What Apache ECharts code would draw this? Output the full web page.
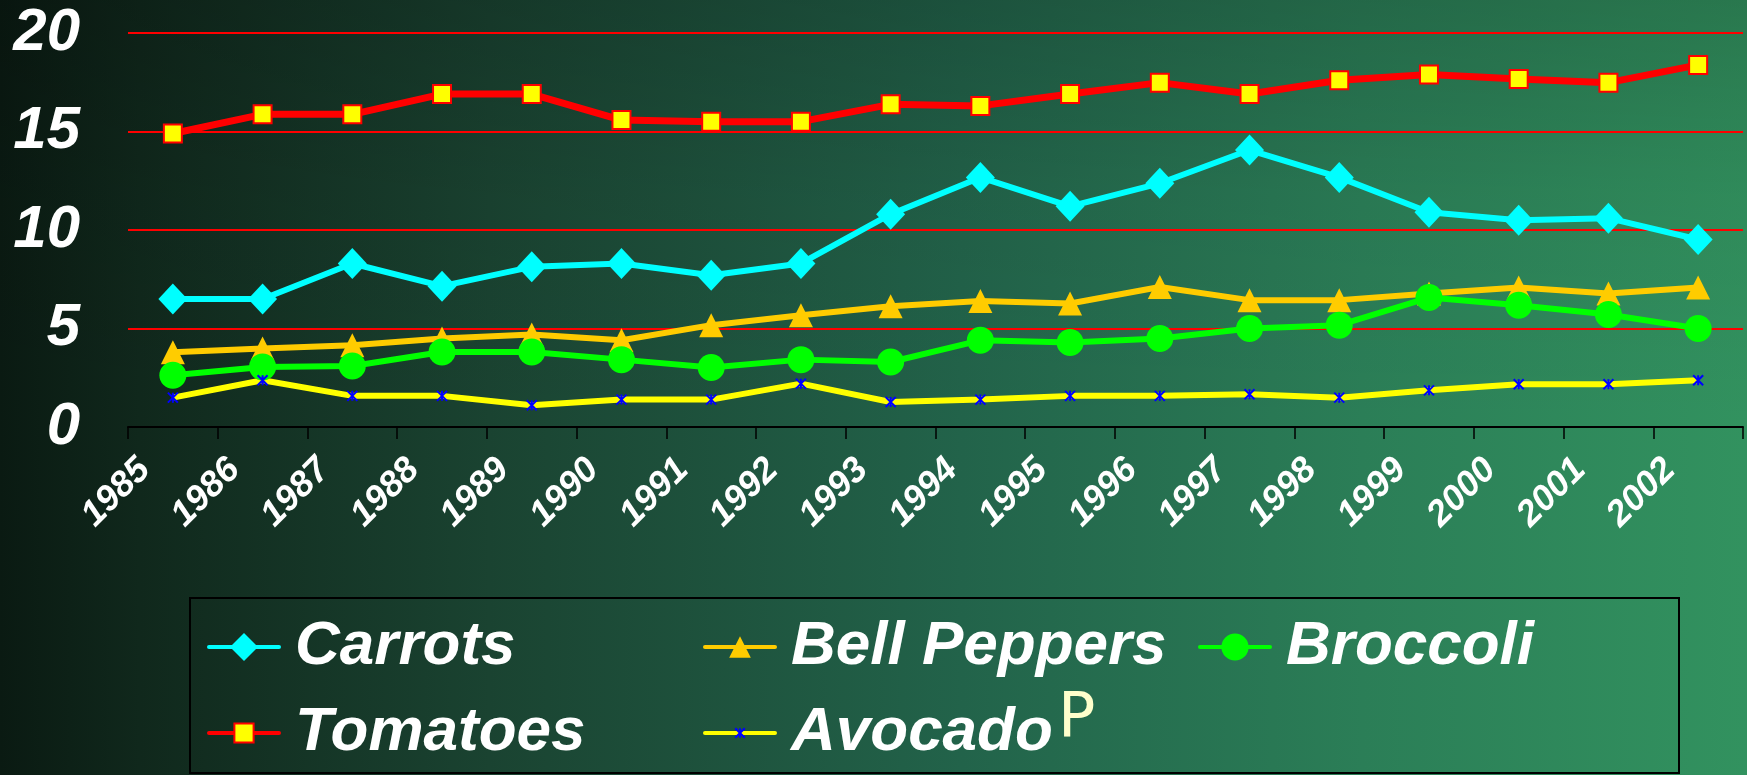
<!DOCTYPE html>
<html>
<head>
<meta charset="utf-8">
<script src="https://cdn.jsdelivr.net/npm/echarts@6/dist/echarts.min.js"></script>
<style>
  html, body { margin: 0; padding: 0; }
  #chart-container {
    width: 1747px; height: 775px;
    background:
      linear-gradient(180deg, rgba(0,0,0,0.18) 0%, rgba(0,0,0,0.05) 25%, rgba(0,0,0,0) 55%),
      linear-gradient(90deg, #0a1a12 0%, #10281c 8%, #1a4331 28%, #22634a 55%, #2b7e57 78%, #32925f 100%);
  }
</style>
</head>
<body>
<div id="chart-container"></div>
<script>
var years = ['1985', '1986', '1987', '1988', '1989', '1990', '1991', '1992', '1993',
             '1994', '1995', '1996', '1997', '1998', '1999', '2000', '2001', '2002'];
var carrots = [6.5, 6.5, 8.3, 7.15, 8.13, 8.3, 7.7, 8.3, 10.8, 12.67, 11.2, 12.37, 14.06, 12.67, 10.9, 10.5, 10.6, 9.52];
var tomatoes = [14.9, 15.87, 15.87, 16.9, 16.9, 15.58, 15.5, 15.5, 16.38, 16.3, 16.9, 17.48, 16.9, 17.6, 17.89, 17.67, 17.48, 18.38];
var bellPeppers = [3.8, 3.98, 4.15, 4.49, 4.69, 4.4, 5.17, 5.67, 6.13, 6.39, 6.27, 7.11, 6.44, 6.44, 6.78, 7.08, 6.78, 7.08];
var broccoli = [2.63, 3.05, 3.1, 3.81, 3.81, 3.42, 3.02, 3.42, 3.3, 4.4, 4.29, 4.49, 5.0, 5.17, 6.57, 6.18, 5.71, 5.0];
var avocado = [1.49, 2.37, 1.58, 1.58, 1.1, 1.39, 1.39, 2.2, 1.27, 1.39, 1.58, 1.58, 1.66, 1.49, 1.86, 2.17, 2.17, 2.37];
var yTicks = [0, 5, 10, 15, 20];

var chartDom = document.getElementById('chart-container');
var myChart = echarts.init(chartDom);

var labelFont = {
  color: '#ffffff',
  fontFamily: 'Liberation Sans',
  fontStyle: 'italic',
  fontWeight: 'bold'
};
var legendText = Object.assign({}, labelFont, { fontSize: 62, lineHeight: 62, padding: [0, 0, 0, 11] });
var xMark = 'path://M0,0L10,10M10,0L0,10M5,0L5,10';

// one legend per entry so each icon can have its own size;
// the text (62px) is taller than every icon, so top = text middle - 31
function legendFor(name, left, textMiddle, h, lineColor) {
  return {
    data: [name], left: left, top: textMiddle - 31, padding: 0,
    itemWidth: 70, itemHeight: h,
    lineStyle: { width: 4, color: lineColor, cap: 'round' },
    textStyle: legendText
  };
}

var option = {
  backgroundColor: 'transparent',
  animation: false,
  grid: { left: 128, right: 4, top: 33, bottom: 348, containLabel: false },
  xAxis: {
    type: 'category',
    data: years,
    boundaryGap: true,
    axisLine: { lineStyle: { color: '#000000', width: 2 } },
    axisTick: { show: true, length: 12, lineStyle: { color: '#000000', width: 1.5 } },
    axisLabel: Object.assign({}, labelFont, { fontSize: 36, rotate: 45, margin: 9, padding: [0, 40, 0, 0], interval: 0 })
  },
  yAxis: {
    type: 'value',
    min: yTicks[0],
    max: yTicks[yTicks.length - 1],
    interval: 5,
    axisLine: { show: false },
    axisTick: { show: false },
    splitLine: { lineStyle: { color: '#ff0000', width: 2 } },
    axisLabel: Object.assign({}, labelFont, { fontSize: 60, margin: 48 })
  },
  legend: [
    legendFor('Carrots', 207, 647, 35, '#00ffff'),
    legendFor('Tomatoes', 207, 733, 24, '#ff0000'),
    legendFor('Bell Peppers', 703, 647, 27, '#ffcc00'),
    legendFor('Avocado', 703, 733, 12, '#ffff00'),
    legendFor('Broccoli', 1198, 647, 34, '#00ff00')
  ],
  graphic: [
    {
      type: 'rect',
      shape: { x: 190, y: 598, width: 1489, height: 175 },
      style: { fill: 'transparent', stroke: '#000000', lineWidth: 2 },
      silent: true
    },
    {
      type: 'text',
      left: 1058, top: 689,
      style: { text: 'P', fill: '#ffffcc', fontSize: 62, fontFamily: 'DejaVu Sans' },
      silent: true
    }
  ],
  series: [
    {
      name: 'Carrots', type: 'line', data: carrots,
      symbol: 'diamond', symbolSize: [29, 31],
      lineStyle: { color: '#00ffff', width: 6 },
      itemStyle: { color: '#00ffff' }
    },
    {
      name: 'Tomatoes', type: 'line', data: tomatoes,
      symbol: 'rect', symbolSize: 18,
      lineStyle: { color: '#ff0000', width: 7 },
      itemStyle: { color: '#ffff00', borderColor: '#ff0000', borderWidth: 2 }
    },
    {
      name: 'Bell Peppers', type: 'line', data: bellPeppers,
      symbol: 'triangle', symbolSize: 24,
      lineStyle: { color: '#ffcc00', width: 6 },
      itemStyle: { color: '#ffcc00' }
    },
    {
      name: 'Broccoli', type: 'line', data: broccoli,
      symbol: 'circle', symbolSize: 27,
      lineStyle: { color: '#00ff00', width: 6 },
      itemStyle: { color: '#00ff00' }
    },
    {
      name: 'Avocado', type: 'line', data: avocado,
      symbol: xMark, symbolSize: 10,
      lineStyle: { color: '#ffff00', width: 6 },
      itemStyle: { color: '#0000ff', borderColor: '#0000ff', borderWidth: 2 }
    }
  ]
};

option && myChart.setOption(option);
</script>
</body>
</html>
